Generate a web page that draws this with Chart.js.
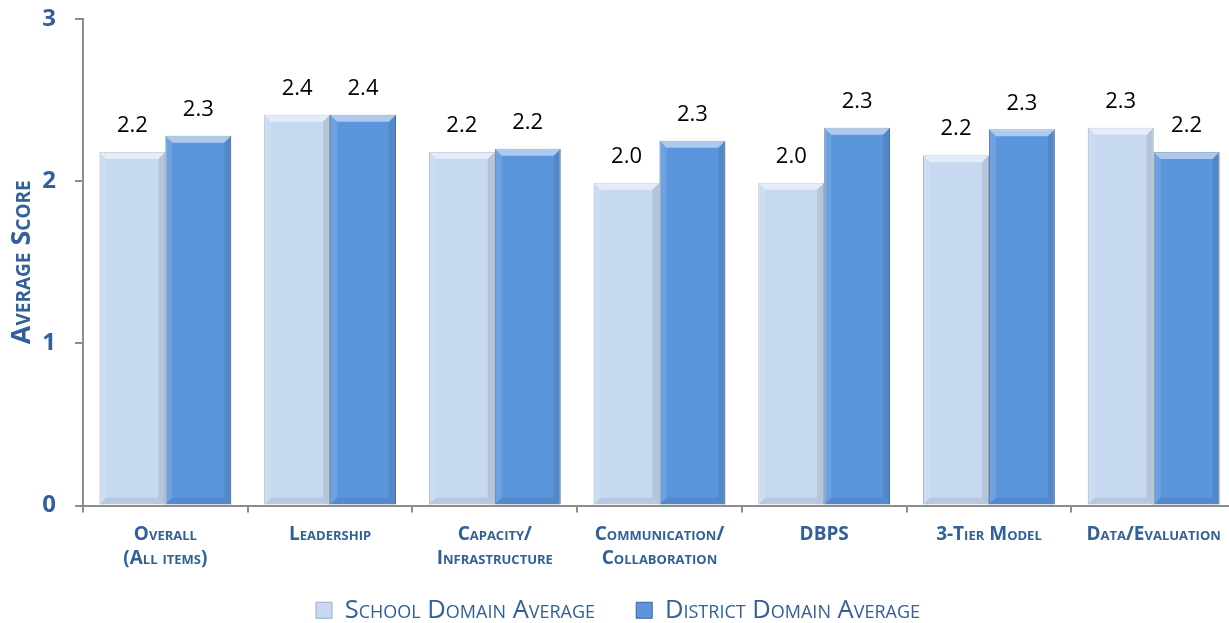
<!DOCTYPE html>
<html>
<head>
<meta charset="utf-8">
<script src="https://cdn.jsdelivr.net/npm/chart.js@4.4.1/dist/chart.umd.min.js"></script>
<style>
  html, body { margin: 0; padding: 0; background: #fff; overflow: hidden; }
  #wrap { width: 1240px; height: 645px; margin-top: -12px; }
</style>
</head>
<body>
<div id="wrap"><canvas id="chart" width="1240" height="645"></canvas></div>
<script>
/* --- data --- */
var categories = [
  ['Overall', '(All items)'],
  'Leadership',
  ['Capacity/', 'Infrastructure'],
  ['Communication/', 'Collaboration'],
  'DBPS',
  '3-Tier Model',
  'Data/Evaluation'
];
var schoolAvg = [2.18, 2.41, 2.18, 1.99, 1.99, 2.16, 2.33];
var districtAvg = [2.28, 2.41, 2.20, 2.25, 2.33, 2.32, 2.18];
var seriesNames = ['School Domain Average', 'District Domain Average'];
var yTicks = [0, 1, 2, 3];

var BLUE_TEXT = '#31609a';
var FAMILY = '"Open Sans", "DejaVu Sans", sans-serif';

/* --- bevel look on bars (uses the bar elements' own geometry) --- */
var barBevel = {
  id: 'barBevel',
  afterDatasetsDraw: function(chart) {
    var ctx = chart.ctx;
    var b = 7;
    function poly(pts, fill) {
      ctx.beginPath();
      ctx.moveTo(pts[0][0], pts[0][1]);
      for (var k = 1; k < pts.length; k++) ctx.lineTo(pts[k][0], pts[k][1]);
      ctx.closePath();
      ctx.fillStyle = fill;
      ctx.fill();
    }
    ctx.save();
    chart.data.datasets.forEach(function(ds, i) {
      chart.getDatasetMeta(i).data.forEach(function(bar) {
        var l = bar.x - bar.width / 2, r = bar.x + bar.width / 2;
        var t = bar.y, bt = bar.base;
        poly([[l, t], [r, t], [r - b, t + b], [l + b, t + b]], 'rgba(255,255,255,0.5)');
        poly([[l, t], [l + b, t + b], [l + b, bt - b], [l, bt]], 'rgba(255,255,255,0.12)');
        poly([[r, t], [r - b, t + b], [r - b, bt - b], [r, bt]], 'rgba(0,0,0,0.09)');
        poly([[l, bt], [l + b, bt - b], [r - b, bt - b], [r, bt]], 'rgba(0,0,0,0.07)');
      });
    });
    ctx.restore();
  }
};

/* --- value labels above each bar --- */
var barLabels = {
  id: 'barLabels',
  afterDatasetsDraw: function(chart) {
    var ctx = chart.ctx;
    ctx.save();
    ctx.fillStyle = '#000';
    ctx.font = '22px ' + FAMILY;
    ctx.textAlign = 'center';
    ctx.textBaseline = 'middle';
    chart.data.datasets.forEach(function(ds, i) {
      var meta = chart.getDatasetMeta(i);
      meta.data.forEach(function(bar, j) {
        ctx.fillText(ds.data[j].toFixed(1), bar.x, bar.y - 26);
      });
    });
    ctx.restore();
  }
};

new Chart(document.getElementById('chart'), {
  type: 'bar',
  data: {
    labels: categories,
    datasets: [
      {
        label: seriesNames[0],
        data: schoolAvg,
        backgroundColor: '#c6d9f0',
        borderColor: '#9aaabd',
        borderWidth: 1
      },
      {
        label: seriesNames[1],
        data: districtAvg,
        backgroundColor: '#5b95dc',
        borderColor: '#3a659b',
        borderWidth: 1
      }
    ]
  },
  options: {
    responsive: false,
    animation: false,
    datasets: { bar: { categoryPercentage: 0.8, barPercentage: 1 } },
    layout: { padding: { top: 0, right: 4, left: 0, bottom: 0 } },
    plugins: {
      legend: {
        position: 'bottom',
        labels: {
          color: BLUE_TEXT,
          font: { family: FAMILY, size: 25.5, weight: 'small-caps normal' },
          boxWidth: 16,
          boxHeight: 16,
          padding: 8,
          generateLabels: function(chart) {
            var items = Chart.defaults.plugins.legend.labels.generateLabels(chart);
            items[0].text = items[0].text + '     ';
            return items;
          }
        }
      },
      tooltip: { enabled: false }
    },
    scales: {
      x: {
        grid: { display: true, drawOnChartArea: false, offset: true, tickLength: 7, color: '#8c8c8c', lineWidth: 2 },
        border: { color: '#8c8c8c', width: 2 },
        ticks: {
          color: BLUE_TEXT,
          font: { family: FAMILY, size: 19, weight: 'small-caps bold', lineHeight: 1.27 },
          padding: 10,
          maxRotation: 0,
          autoSkip: false
        },
        afterFit: function(scale) { scale.height = 84; }
      },
      y: {
        min: 0,
        max: 3,
        afterBuildTicks: function(scale) {
          scale.ticks = yTicks.map(function(v) { return { value: v }; });
        },
        grid: { display: true, drawOnChartArea: false, tickLength: 8, color: '#8c8c8c', lineWidth: 2 },
        border: { color: '#8c8c8c', width: 2 },
        ticks: {
          color: BLUE_TEXT,
          font: { family: FAMILY, size: 24, weight: 'bold', lineHeight: 1 },
          padding: 19
        },
        title: {
          display: true,
          text: 'Average Score',
          color: BLUE_TEXT,
          font: { family: FAMILY, size: 27, weight: 'small-caps bold', lineHeight: 1.2 },
          padding: { top: 6, bottom: 0 }
        },
        afterFit: function(scale) { scale.width = 83; }
      }
    }
  },
  plugins: [barBevel, barLabels]
});
</script>
</body>
</html>
